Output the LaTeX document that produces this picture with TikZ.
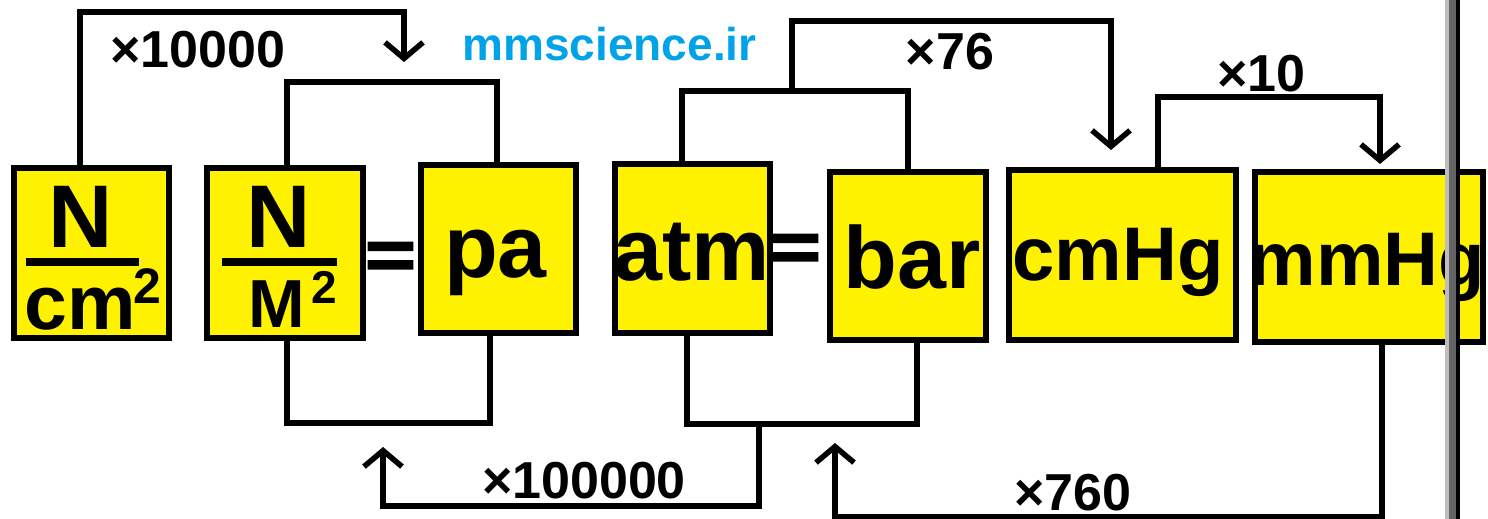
\documentclass[tikz,border=0pt]{standalone}
\usepackage{fontspec}
\setmainfont{Liberation Sans}
\newfontfamily\eqfont{Liberation Sans}[UprightFont=*, BoldFont=* Bold, BoldFeatures={FakeBold=3}]
\usetikzlibrary{arrows.meta}
\definecolor{boxyellow}{RGB}{255,242,0}
\definecolor{sitecyan}{RGB}{0,162,232}
\definecolor{barlight}{RGB}{190,190,190}
\definecolor{bardark}{RGB}{100,100,100}
\newcommand\myfs[1]{\fontsize{#1}{#1}\selectfont}
\begin{document}
\begin{tikzpicture}[x=1pt,y=-1pt,
  ubox/.style={draw, line width=6pt, fill=boxyellow, inner sep=0pt},
  txt/.style={inner sep=0pt, anchor=base},
  conn/.style={line width=5.5pt, line join=miter},
  arr/.style={conn, -{Straight Barb[length=16pt,width=38pt]}},
  lbl/.style={txt, font=\bfseries\myfs{52}},
  big/.style={txt, font=\bfseries\myfs{88}},
  mid/.style={txt, font=\bfseries\myfs{76}},
  eqs/.style={txt, anchor=center, font=\eqfont\bfseries\myfs{86}},
]
\useasboundingbox[fill=white] (0,0) rectangle (1488,519);

% boxes
\node[ubox, minimum width=155pt, minimum height=170pt] (b1) at (91.5,253) {};
\node[ubox, minimum width=156pt, minimum height=170pt] (b2) at (285,253) {};
\node[ubox, minimum width=155pt, minimum height=168pt] (b3) at (498.5,249) {};
\node[ubox, minimum width=155pt, minimum height=169pt] (b4) at (692.5,248.5) {};
\node[ubox, minimum width=156pt, minimum height=168pt] (b5) at (908,256) {};
\node[ubox, minimum width=227pt, minimum height=170pt] (b6) at (1122.5,255) {};
\node[ubox, minimum width=228pt, minimum height=170pt] (b7) at (1369,257) {};

% box texts
\node[txt, font=\bfseries\myfs{89}] (n1) at (81,247) {N};
\draw[line width=8pt] (26,262) -- (139,262);
\node[txt, anchor=base west, font=\bfseries\myfs{77}] (cm) at (24,329) {cm};
\node[txt, anchor=base west, font=\bfseries\myfs{50}] (sq1) at (133,303) {2};

\node[txt, font=\bfseries\myfs{89}] (n2) at (279,247) {N};
\draw[line width=8pt] (222,262) -- (337,262);
\node[txt, font=\bfseries\myfs{68}] (mm) at (277,327) {M};
\node[txt, anchor=base west, font=\bfseries\myfs{46}] (sq2) at (311,303) {2};

\node[eqs] (eq1) at (390.5,260.5) {\scalebox{1}[0.8]{=}};
\node[eqs] (eq2) at (795.5,252.5) {\scalebox{1}[0.8]{=}};

\node[big] (tpa) at (495.5,277) {pa};
\node[big] (tatm) at (692,280) {atm};
\node[big] (tbar) at (912,288) {bar};
\node[mid] (tcm) at (1118,280) {cmHg};
\node[mid] (tmm) at (1367,285) {mmHg};

% free ends and junctions
\coordinate (tip1) at (404,62);
\coordinate (j1) at (792,91);
\coordinate (tip2) at (1111,150);
\coordinate (tip3) at (1380,164);
\coordinate (j2) at (759,424);
\coordinate (tip4) at (383,447);
\coordinate (tip5) at (835,443);

% connectors
\draw[arr] ([xshift=-11.5pt]b1.north) |- (tip1 |- 0,12) -- (tip1);
\draw[conn] ([xshift=2pt]b2.north) |- ([xshift=-1.5pt]b3.north |- 0,82) -- ([xshift=-1.5pt]b3.north);
\draw[conn] ([xshift=2pt]b2.south) |- ([xshift=-8.5pt]b3.south |- 0,423) -- ([xshift=-8.5pt]b3.south);
\draw[conn] ([xshift=-10.5pt]b4.north) |- (b5.north |- j1) -- (b5.north);
\draw[arr] (j1) |- (tip2 |- 0,21) -- (tip2);
\draw[arr] ([xshift=35.5pt]b6.north) |- (tip3 |- 0,97) -- (tip3);
\draw[conn] ([xshift=-5.5pt]b4.south) |- ([xshift=9pt]b5.south |- j2) -- ([xshift=9pt]b5.south);
\draw[arr] (j2) |- (tip4 |- 0,506) -- (tip4);
\draw[arr] ([xshift=13pt]b7.south) |- (tip5 |- 0,517) -- (tip5);

% labels
\node[lbl] (l1) at (198,67) {×10000};
\node[txt, font=\bfseries\myfs{46}, text=sitecyan] (site) at (609.5,61) {mmscience.ir};
\node[lbl] (l2) at (950,70) {×76};
\node[lbl] (l3) at (1261.5,92) {×10};
\node[lbl] (l4) at (584,498) {×100000};
\node[lbl] (l5) at (1073,510) {×760};

% window edge
\fill[barlight] (1445,0) rectangle (1449,519);
\fill[bardark] (1449,0) rectangle (1456,519);
\fill[black] (1456,0) rectangle (1460,519);
\end{tikzpicture}
\end{document}
